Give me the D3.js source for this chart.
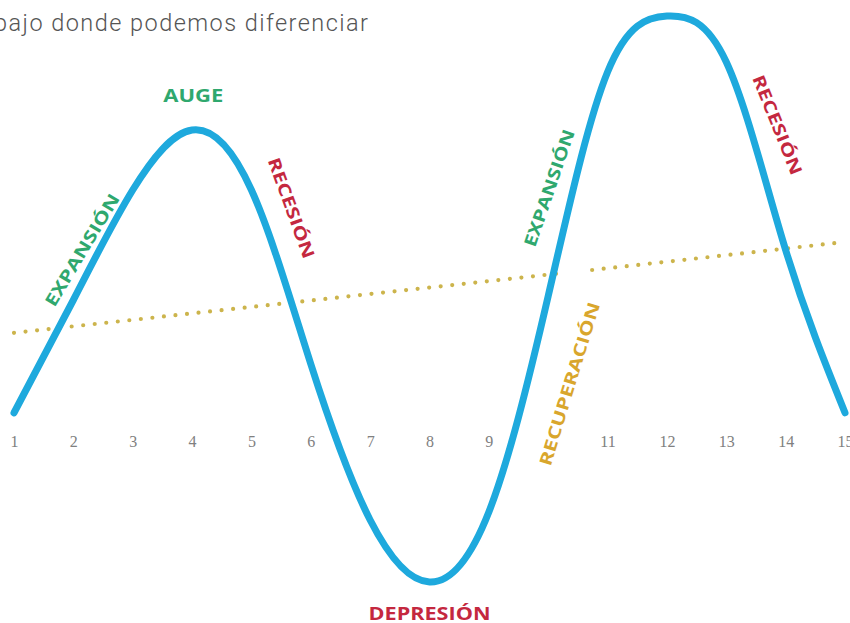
<!DOCTYPE html>
<html><head><meta charset="utf-8">
<script src="https://cdn.jsdelivr.net/npm/d3@7"></script>
<style>html,body{margin:0;padding:0;background:#fff;overflow:hidden}</style>
</head><body>
<svg id="c" width="850" height="623"></svg>
<script>
// ---- data ----
const periodX = [1,2,3,4,5,6,7,8,9,10,11,12,13,14,15];
const activity = [0.18,3.0,5.75,7.25,5.75,1.4,-2.5,-4.05,-2.3,3.1,8.7,10.1,8.95,4.25,0.18];
const trendX1 = [1, 10.28];
const trendY1 = [2.18, 3.68];
const trendX2 = [10.74, 15];
const trendY2 = [3.75, 4.45];
const tickValues = [1,2,3,4,5,6,7,8,9,11,12,13,14,15];
const tickLabels = ["1","2","3","4","5","6","7","8","9","11","12","13","14","15"];
const phaseLabels = ["AUGE","EXPANSIÓN","RECESIÓN","DEPRESIÓN","EXPANSIÓN","RECUPERACIÓN","RECESIÓN"];
const phaseX = [4.02, 2.15, 5.67, 8.0, 10.02, 10.36, 13.86];
const phaseY = [8.1, 4.25, 5.3, -4.85, 5.8, 0.9, 7.38];
const phaseAngle = [0, -59, 70, 0, -71, -73, 68];
const phaseColor = ["#2fa86e","#2fa86e","#c4283f","#c4283f","#2fa86e","#d9a62c","#c4283f"];
const phaseLen = [60, 128, 106, 122, 123, 170, 106];
const caption = "bajo donde podemos diferenciar";

// ---- scales ----
const svg = d3.select("#c");
const x = d3.scaleLinear().domain([1, 15]).range([14, 845]);
const y = d3.scaleLinear().domain([-5, 11]).range([620, -20]);

// caption
svg.append("text").attr("x", -6).attr("y", 31)
  .attr("textLength", 374).attr("lengthAdjust", "spacing")
  .style("font-family", "Roboto").style("font-weight", 300).style("font-size", "23.5px")
  .style("fill", "#555").text(caption);

// axis tick labels
const axis = d3.axisBottom(x).tickValues(tickValues)
  .tickFormat((d,i) => tickLabels[i]).tickSize(0).tickPadding(0);
const gAx = svg.append("g").attr("transform", "translate(0,436)").call(axis);
gAx.select(".domain").remove();
gAx.selectAll("text").style("font-family", "Liberation Serif").style("font-size", "16px")
  .style("fill", "#808080");

// trend dotted line
const tl = d3.line().x(d => x(d[0])).y(d => y(d[1]));
[[trendX1, trendY1],[trendX2, trendY2]].forEach(([xs, ys]) => {
  svg.append("path").datum(xs.map((v,i) => [v, ys[i]]))
    .attr("d", tl).attr("fill", "none").attr("stroke", "#c9b042")
    .attr("stroke-width", 4.2).attr("stroke-linecap", "round")
    .attr("stroke-dasharray", "0 11.6").attr("opacity", 0.95);
});

// cycle curve
const line = d3.line().x(d => x(d[0])).y(d => y(d[1])).curve(d3.curveNatural);
svg.append("path").datum(periodX.map((v,i) => [v, activity[i]]))
  .attr("d", line).attr("fill", "none").attr("stroke", "#1ea9dd")
  .attr("stroke-width", 7).attr("stroke-linecap", "round").attr("stroke-linejoin", "round");

// phase labels
phaseLabels.forEach((t, i) => {
  svg.append("text")
    .attr("transform", `translate(${x(phaseX[i])},${y(phaseY[i])}) rotate(${phaseAngle[i]})`)
    .attr("text-anchor", "middle").attr("dy", "0.35em")
    .attr("textLength", phaseLen[i]).attr("lengthAdjust", "spacingAndGlyphs")
    .style("font-family", "Open Sans").style("font-weight", 700).style("font-size", "17px")
    .style("fill", phaseColor[i]).text(t);
});
</script>
</body></html>
